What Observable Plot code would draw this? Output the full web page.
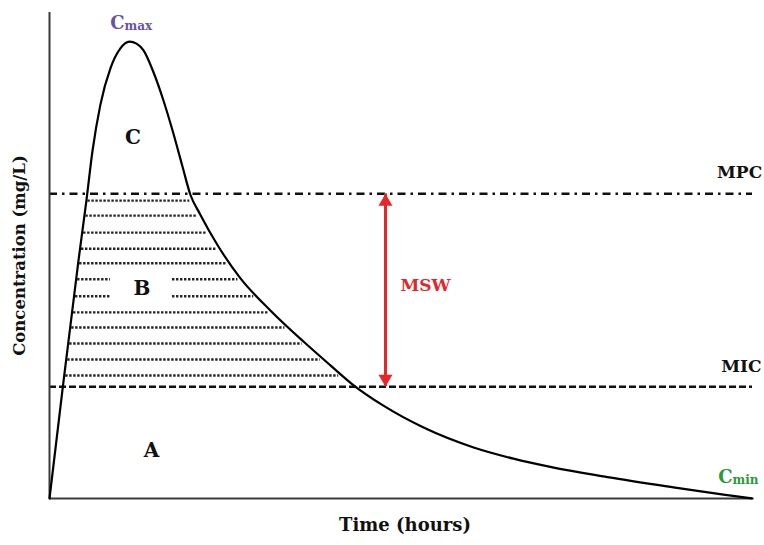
<!DOCTYPE html>
<html>
<head>
<meta charset="utf-8">
<script src="https://cdn.jsdelivr.net/npm/d3@7"></script>
<script src="https://cdn.jsdelivr.net/npm/@observablehq/plot@0.6"></script>
<style>
  html, body { margin: 0; padding: 0; background: #fff; }
  #chart svg { display: block; }
</style>
</head>
<body>
<div id="chart"></div>
<script>
// ---- Data (time in hours, concentration in mg/L) ----
const curveTime = [0, 0.44, 0.99, 1.26, 1.47, 1.74, 2.08, 2.42, 2.73, 2.97, 3.21, 3.55, 3.89, 4.23, 4.54, 4.81, 5.15, 5.74, 6.52, 7.54, 8.67, 9.59, 10.34, 11.40, 12.77, 14.48, 15.84, 17.10, 19.05, 21.30, 23.01, 24.0];
const curveConc = [0, 2.22, 4.90, 6.13, 7.16, 8.11, 8.85, 9.26, 9.40, 9.36, 9.22, 8.77, 8.19, 7.51, 6.83, 6.25, 5.84, 5.21, 4.53, 3.87, 3.23, 2.74, 2.35, 1.91, 1.46, 1.05, 0.82, 0.65, 0.44, 0.23, 0.08, 0];

const MPC = 6.27;
const MIC = 2.3;
const thresholdNames = ["MPC", "MIC"];
const thresholdValues = [MPC, MIC];

// hatched band (region B) levels
const hatchLevels = [6.13, 5.82, 5.47, 5.14, 4.84, 4.51, 4.16, 3.83, 3.52, 3.19, 2.86, 2.53];
const hatchGapLevels = [4.51, 4.16];
const hatchGapFrom = 2.08, hatchGapTo = 4.2;

// MSW arrow position (time)
const mswTime = 11.47;

// region & threshold labels
const labelText = ["C", "B", "A", "MSW", "MPC", "MIC"];
const labelTime = [2.85, 3.16, 3.48, 12.84, 23.56, 23.62];
const labelConc = [7.43, 4.32, 0.99, 4.38, 6.71, 2.72];
const labelColor = ["#111", "#111", "#111", "#e3262c", "#111", "#111"];

// Cmax / Cmin (main letter + subscript)
const subMain = ["C", "C"];
const subText = ["max", "min"];
const subTime = [2.56, 23.32];
const subConc = [9.67, 0.31];
const subColor = ["#6a50a7", "#2a9a3a"];

const xLabel = "Time (hours)";
const yLabel = "Concentration (mg/L)";

// ---- derived tables ----
const curve = curveTime.map((t, i) => ({t, c: curveConc[i]}));
const peak = curveConc.indexOf(d3.max(curveConc));
function crossTime(level, rising) {
  const pts = rising ? curve.slice(0, peak + 1) : curve.slice(peak);
  for (let i = 0; i < pts.length - 1; i++) {
    const a = pts[i], b = pts[i + 1];
    if ((a.c - level) * (b.c - level) <= 0 && a.c !== b.c) {
      return a.t + (level - a.c) / (b.c - a.c) * (b.t - a.t);
    }
  }
  return null;
}
const hatch = [];
for (const lv of hatchLevels) {
  const t1 = crossTime(lv, true) + 0.05;
  const t2 = crossTime(lv, false) - 0.12;
  if (hatchGapLevels.includes(lv)) {
    hatch.push({c: lv, t1, t2: hatchGapFrom});
    hatch.push({c: lv, t1: hatchGapTo, t2});
  } else hatch.push({c: lv, t1, t2});
}
const thresholds = thresholdNames.map((n, i) => ({name: n, c: thresholdValues[i]}));
const labels = labelText.map((s, i) => ({s, t: labelTime[i], c: labelConc[i], color: labelColor[i]}));
const subs = subMain.map((s, i) => ({s, sub: subText[i], t: subTime[i], c: subConc[i], color: subColor[i]}));

// arrow head symbols (tip at the anchor point)
const headUp = {draw(ctx, size) { const r = Math.sqrt(size / Math.PI); const L = 2.4 * r, w = 1.4 * r;
  ctx.moveTo(0, 0); ctx.lineTo(w, L); ctx.lineTo(-w, L); ctx.closePath(); }};
const headDown = {draw(ctx, size) { const r = Math.sqrt(size / Math.PI); const L = 2.4 * r, w = 1.4 * r;
  ctx.moveTo(0, 0); ctx.lineTo(w, -L); ctx.lineTo(-w, -L); ctx.closePath(); }};

const font = "DejaVu Serif";
const red = "#e8262a";

const chart = Plot.plot({
  width: 764,
  height: 545,
  marginLeft: 49,
  marginRight: 12,
  marginTop: 12,
  marginBottom: 47,
  x: {domain: [0, 24], axis: null},
  y: {domain: [0, 10], axis: null},
  style: {background: "#fff", fontFamily: font},
  marks: [
    // hatch of region B
    Plot.ruleY(hatch, {y: "c", x1: "t1", x2: "t2", stroke: "#222", strokeWidth: 2.4, strokeDasharray: "2.4,1.6"}),
    // thresholds
    Plot.ruleY(thresholds.filter(d => d.name === "MPC"), {y: "c", stroke: "#111", strokeWidth: 2.4, strokeDasharray: "8,5,2.5,5"}),
    Plot.ruleY(thresholds.filter(d => d.name === "MIC"), {y: "c", stroke: "#111", strokeWidth: 2.4, strokeDasharray: "7,3"}),
    // axes lines
    Plot.ruleX([0], {stroke: "#3a3a3a", strokeWidth: 2}),
    Plot.ruleY([0], {stroke: "#3a3a3a", strokeWidth: 2}),
    // concentration curve
    Plot.line(curve, {x: "t", y: "c", curve: "monotone-x", stroke: "#000", strokeWidth: 2.2}),
    // MSW arrow
    Plot.ruleX([{t: mswTime, c1: MIC, c2: MPC}], {x: "t", y1: "c1", y2: "c2", stroke: red, strokeWidth: 3}),
    Plot.dot([{t: mswTime, c: MPC}], {x: "t", y: "c", symbol: headUp, r: 5, fill: red, stroke: "none"}),
    Plot.dot([{t: mswTime, c: MIC}], {x: "t", y: "c", symbol: headDown, r: 5, fill: red, stroke: "none"}),
    // labels
    Plot.text(labels.filter(d => d.s.length === 1), {x: "t", y: "c", text: "s", fill: "color", fontSize: 20, fontWeight: "bold", lineAnchor: "middle"}),
    Plot.text(labels.filter(d => d.s.length > 1), {x: "t", y: "c", text: "s", fill: "color", fontSize: 17, fontWeight: "bold", lineAnchor: "middle"}),
    Plot.text(subs, {x: "t", y: "c", text: "s", fill: "color", fontSize: 18, fontWeight: "bold", textAnchor: "end", lineAnchor: "bottom"}),
    Plot.text(subs, {x: "t", y: "c", text: "sub", fill: "color", fontSize: 12, fontWeight: "bold", textAnchor: "start", lineAnchor: "bottom", dy: 1}),
    // axis titles
    Plot.text([xLabel], {frameAnchor: "bottom", text: d => d, fontSize: 18, fontWeight: "bold", fill: "#111", lineAnchor: "middle", dy: 27, dx: 4}),
    Plot.text([yLabel], {frameAnchor: "left", text: d => d, textAnchor: "middle", fontSize: 16.5, fontWeight: "bold", fill: "#111", lineAnchor: "middle", rotate: -90, dx: -30})
  ]
});
document.getElementById("chart").appendChild(chart);
</script>
</body>
</html>
